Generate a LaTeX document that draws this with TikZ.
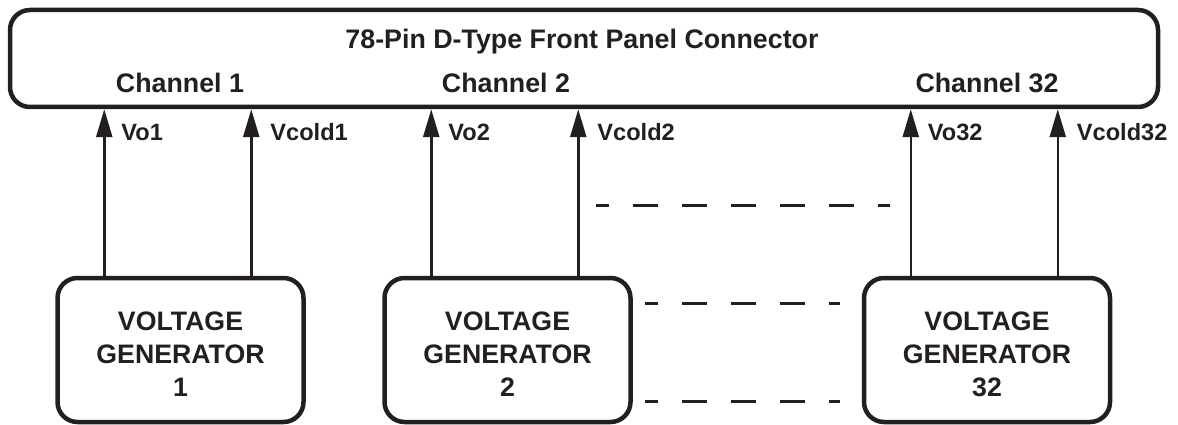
\documentclass[tikz,border=0pt]{standalone}
\usepackage{fontspec}
\setmainfont{Liberation Sans}
\usetikzlibrary{arrows.meta}
\definecolor{ink}{HTML}{231F20}
\begin{document}
\begin{tikzpicture}[x=1pt,y=-1pt,
  panel/.style={draw=ink, line width=4.5pt, rounded corners=20pt, minimum width=1148pt, minimum height=97pt, inner sep=0pt},
  genbox/.style={draw=ink, line width=4.5pt, rounded corners=20pt, minimum width=246pt, minimum height=144pt, inner sep=0pt},
  gentxt/.style={align=center, text=ink, inner sep=0pt, font=\bfseries\fontsize{26.7}{33}\selectfont},
  bigtxt/.style={text=ink, font=\bfseries\fontsize{26.8}{30}\selectfont, inner sep=0pt},
  lab/.style={text=ink, font=\bfseries\fontsize{23.6}{26}\selectfont, inner sep=0pt, anchor=base west},
  sig/.style={draw=ink, line width=2.5pt, -{Triangle[length=28pt,width=16pt]}},
  dots/.style={draw=ink, line width=3pt, dash pattern=on 25pt off 24pt, dash phase=12.5pt}
]
\useasboundingbox (0,0) rectangle (1178,425);

\node[panel] (top) at (584,58.5) {};
\node[bigtxt, anchor=base] (title) at (582,49) {78-Pin D-Type Front Panel Connector};
\node[bigtxt, anchor=base] (ch1) at (180,93) {Channel 1};
\node[bigtxt, anchor=base] (ch2) at (506,93) {Channel 2};
\node[bigtxt, anchor=base] (ch32) at (987,93) {Channel 32};

\node[genbox] (g1) at (180.5,350) {};
\node[genbox] (g2) at (507.5,350) {};
\node[genbox] (g32) at (987,350) {};
\node[gentxt] (g1t) at ([yshift=-4pt]g1.center) {VOLTAGE\\GENERATOR\\1};
\node[gentxt] (g2t) at ([yshift=-4pt]g2.center) {VOLTAGE\\GENERATOR\\2};
\node[gentxt] (g32t) at ([yshift=-4pt]g32.center) {VOLTAGE\\GENERATOR\\32};

\foreach \g/\n in {g1/1, g2/2, g32/32}{
  \coordinate (a\n) at ([xshift=49pt]\g.north west);
  \coordinate (b\n) at ([xshift=196pt]\g.north west);
  \coordinate (ta\n) at (a\n |- top.south);
  \coordinate (tb\n) at (b\n |- top.south);
  \draw[sig] (a\n) -- (ta\n);
  \draw[sig] (b\n) -- (tb\n);
  \node[lab] (lo\n) at ([xshift=17pt,yshift=-31pt]ta\n) {Vo\n};
  \node[lab] (lc\n) at ([xshift=19pt,yshift=-31pt]tb\n) {Vcold\n};
}

\coordinate (d1s) at (596,205); \coordinate (d1e) at (890,205);
\coordinate (d2s) at (645,303); \coordinate (d2e) at (840,303);
\coordinate (d3s) at (645,401); \coordinate (d3e) at (840,401);
\draw[dots] (d1s) -- (d1e);
\draw[dots] (d2s) -- (d2e);
\draw[dots] (d3s) -- (d3e);
\end{tikzpicture}
\end{document}
